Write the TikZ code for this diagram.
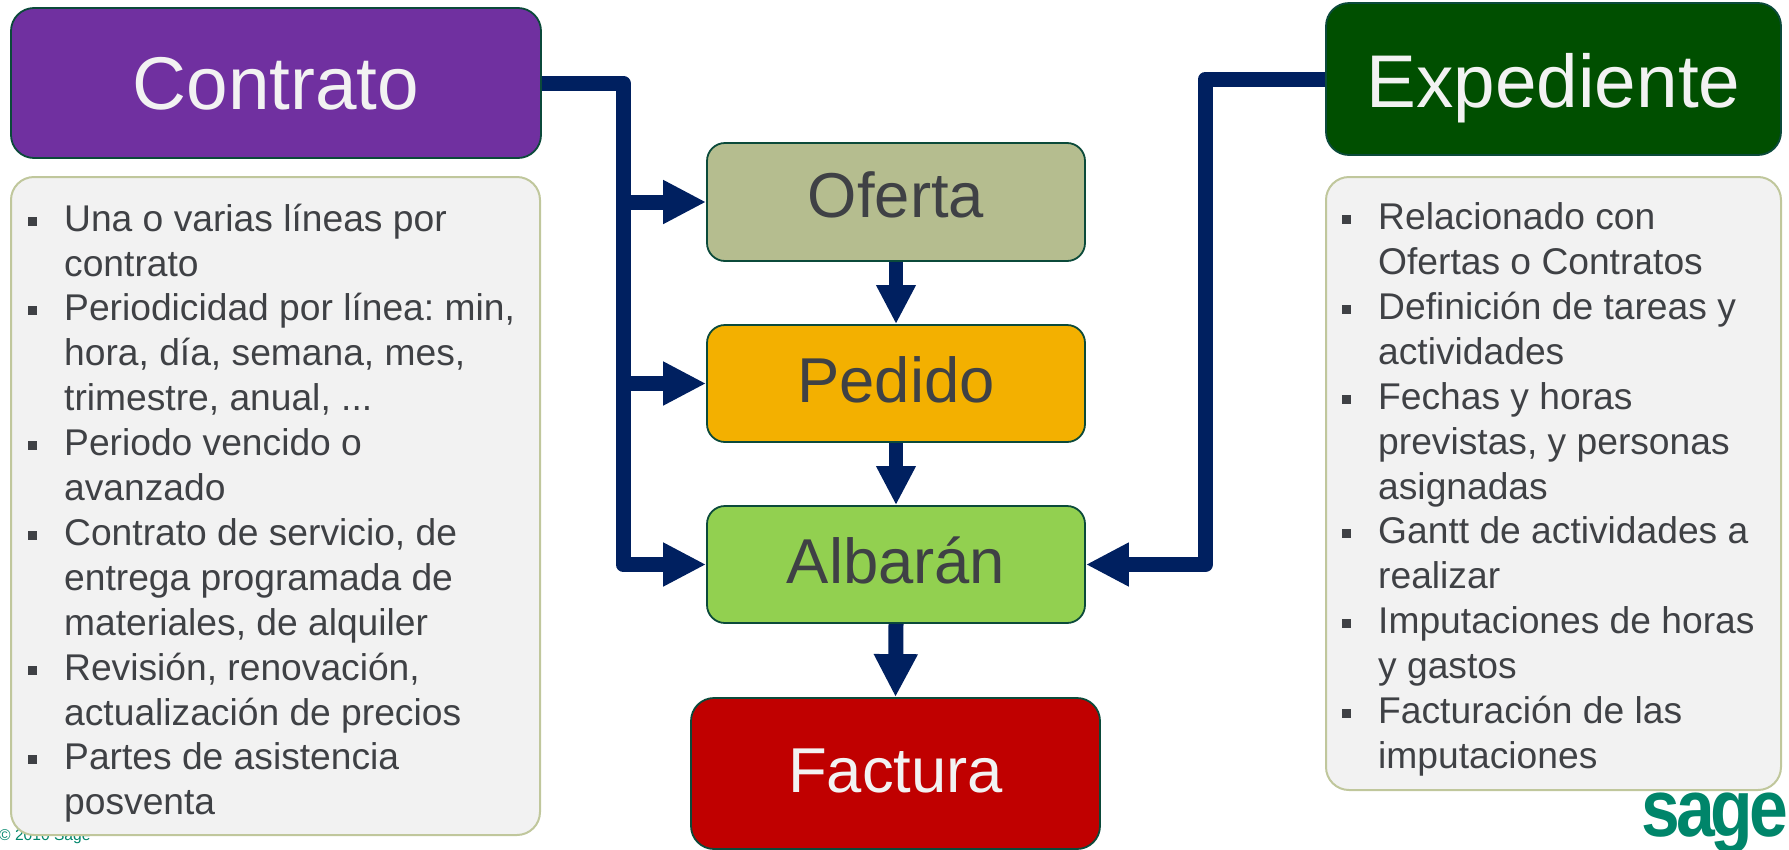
\documentclass[tikz,border=0pt]{standalone}
\usepackage{fontspec}
\setmainfont{Liberation Sans}
\usetikzlibrary{arrows.meta}
\frenchspacing
\definecolor{navy}{HTML}{002060}
\definecolor{edge}{HTML}{0B4A3A}
\definecolor{ink}{HTML}{3F4145}
\definecolor{listedge}{HTML}{C0C79C}
\definecolor{sagegreen}{HTML}{00856A}
\tikzstyle{block} = [draw=edge, line width=1.8pt, rounded corners=18pt, inner sep=0pt, text=ink, text height=52pt, text depth=14pt, font=\fontsize{63.4}{63}\selectfont]
\tikzstyle{title} = [block, rounded corners=23pt, text=white!95!black, text height=67pt, text depth=14pt, font=\fontsize{74.7}{74}\selectfont]
\tikzstyle{listbox} = [draw=listedge, fill=black!5, line width=2pt, rounded corners=23pt, inner sep=0pt]
\tikzstyle{listtext} = [anchor=north west, inner sep=0pt, text=ink, align=left, font=\fontsize{37.2}{44.9}\selectfont]
\tikzstyle{link} = [draw=navy, line width=15pt, line join=round, -{Triangle[length=43pt,width=41pt]}]
\tikzstyle{down} = [draw=navy, line width=13.5pt, -{Triangle[length=39pt,width=37pt]}]
\newcommand{\bu}{\makebox[0pt][r]{\textcolor{ink}{\raisebox{5.5pt}{\rule{9pt}{9pt}}}\hspace{27pt}}}

\begin{document}
\begin{tikzpicture}[x=1pt, y=-1pt]
	\useasboundingbox (0,0) rectangle (1789,849);
	\node (copy) [anchor=base west, inner sep=0pt, text=sagegreen, font=\fontsize{15.6}{15}\selectfont] at (-1,840) {© 2010 Sage};

	% the four steps
	\node (oferta) [block, text height=45pt, fill={rgb,255:red,181;green,189;blue,143}, minimum width=378pt, minimum height=118pt] at (896,202) {Oferta};
	\node (pedido) [block, fill={rgb,255:red,243;green,176;blue,0}, minimum width=378pt, minimum height=117pt] at (896,383.5) {Pedido};
	\node (albaran) [block, fill={rgb,255:red,146;green,208;blue,80}, minimum width=378pt, minimum height=117pt] at (896,564.5) {Albarán};
	\node (factura) [block, rounded corners=23pt, fill={rgb,255:red,192;green,0;blue,0}, text=white!95!black, minimum width=409pt, minimum height=151pt] at (895.5,773.5) {Factura};

	% the two sources
	\node (contrato) [title, fill={rgb,255:red,112;green,48;blue,160}, minimum width=530pt, minimum height=150pt] at (276,83) {Contrato};
	\node (expediente) [title, text height=71pt, fill={rgb,255:red,0;green,79;blue,0}, minimum width=455pt, minimum height=152pt] at (1553.5,79) {Expediente};

	\node (contratobox) [listbox, minimum width=529pt, minimum height=658pt] at (275.5,506) {};
	\node (expedientebox) [listbox, minimum width=455pt, minimum height=613pt] at (1553.5,483.5) {};

	\node (contratotxt) [listtext] at (64,203.5) {\bu Una o varias líneas por\\
		contrato\\
		\bu Periodicidad por línea: min,\\
		hora, día, semana, mes,\\
		trimestre, anual, ...\\
		\bu Periodo vencido o\\
		avanzado\\
		\bu Contrato de servicio, de\\
		entrega programada de\\
		materiales, de alquiler\\
		\bu Revisión, renovación,\\
		actualización de precios\\
		\bu Partes de asistencia\\
		posventa};
	\node (expedientetxt) [listtext] at (1378,202.5) {\bu Relacionado con\\
		Ofertas o Contratos\\
		\bu Definición de tareas y\\
		actividades\\
		\bu Fechas y horas\\
		previstas, y personas\\
		asignadas\\
		\bu Gantt de actividades a\\
		realizar\\
		\bu Imputaciones de horas\\
		y gastos\\
		\bu Facturación de las\\
		imputaciones};

	\node (sage) [anchor=base east, inner sep=0pt, text=sagegreen, font=\fontsize{81}{81}\selectfont\bfseries] at (1788,836) {\scalebox{0.86}[1]{\addfontfeature{LetterSpace=-6}sage}};

	% connectors
	\coordinate (turn) at (623,83);
	\coordinate (offer) at (623,202);
	\coordinate (order) at (623,383.5);
	\coordinate (back) at (1205.5,79);
	\draw [link] (contrato.east) -- (turn) |- (albaran.west);
	\draw [link] (offer) -- (oferta.west);
	\draw [link] (order) -- (pedido.west);
	\draw [link] (expediente.west) -- (back) |- (albaran.east);
	\draw [down] (oferta.south) -- (pedido.north);
	\draw [down] (pedido.south) -- (albaran.north);
	\draw [link] (albaran.south) -- (factura.north);
\end{tikzpicture}
\end{document}
